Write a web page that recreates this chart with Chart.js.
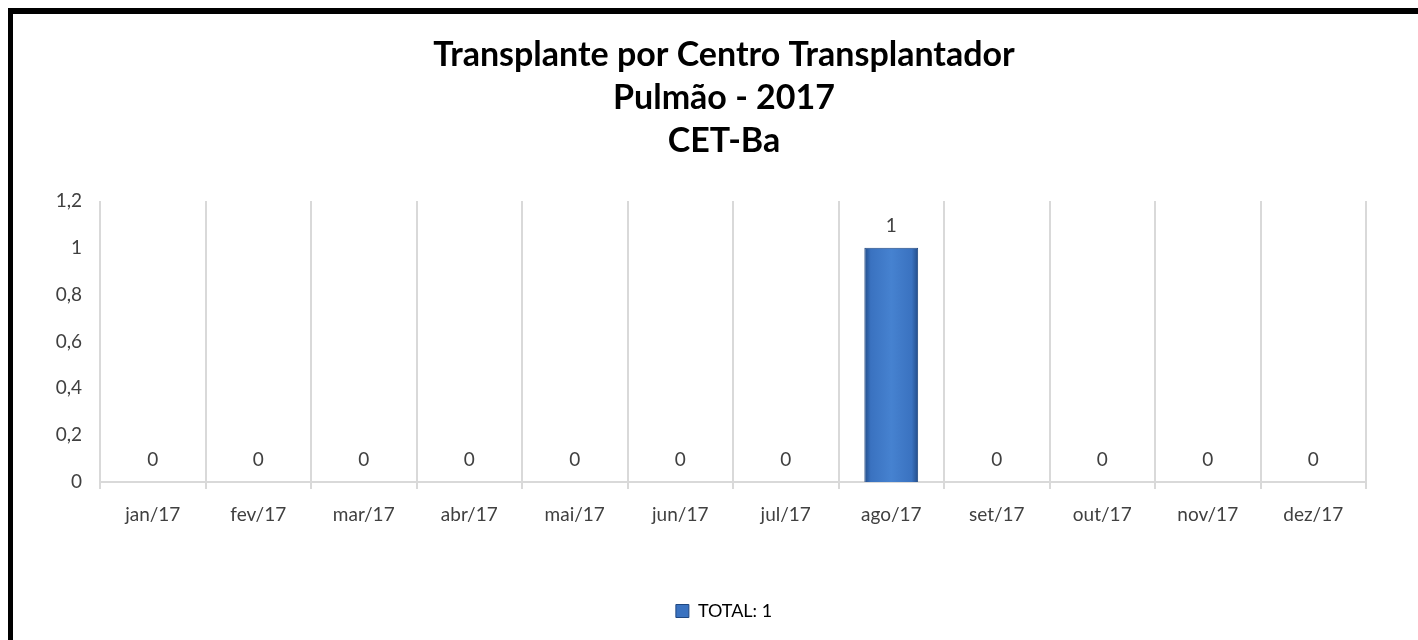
<!DOCTYPE html>
<html>
<head>
<meta charset="utf-8">
<script src="https://cdn.jsdelivr.net/npm/chart.js@4"></script>
<style>
  html, body { margin: 0; padding: 0; background: #fff; overflow: hidden; }
  #wrap { position: relative; width: 1418px; height: 640px; }
  #frame { position: absolute; left: 8px; top: 8px; width: 1500px; height: 700px;
           border-left: 5px solid #000; border-top: 6px solid #000; box-sizing: border-box; }
  canvas { position: absolute; left: 0; top: 0; }
</style>
</head>
<body>
<div id="wrap">
  <canvas id="chart" width="1418" height="640"></canvas>
  <div id="frame"></div>
</div>
<script>
// dados do grafico
const meses = ['jan/17', 'fev/17', 'mar/17', 'abr/17', 'mai/17', 'jun/17',
               'jul/17', 'ago/17', 'set/17', 'out/17', 'nov/17', 'dez/17'];
const transplantes = [0, 0, 0, 0, 0, 0, 0, 1, 0, 0, 0, 0];
const tituloLinhas = ['Transplante por Centro Transplantador', 'Pulmão - 2017', 'CET-Ba'];
const eixoY = { max: 1.2, passo: 0.2 };

const fonte = 'Lato, "Open Sans", sans-serif';
const total = transplantes.reduce((a, b) => a + b, 0);

function virgula(v) {
    return String(Math.round(v * 10) / 10).replace('.', ',');
}

function corBarra(context) {
    const chart = context.chart;
    if (context.type !== 'data' || !chart.chartArea || !chart.scales.x) return '#3a74c2';
    const x = chart.scales.x.getPixelForValue(context.dataIndex);
    const w = 54;
    const g = chart.ctx.createLinearGradient(x - w / 2, 0, x + w / 2, 0);
    g.addColorStop(0, '#224c88');
    g.addColorStop(0.12, '#3a72c0');
    g.addColorStop(0.5, '#4682d0');
    g.addColorStop(0.88, '#3a72c0');
    g.addColorStop(1, '#224c88');
    return g;
}

// rotulos de valor acima das barras
const rotulos = {
    id: 'rotulos',
    afterDatasetsDraw(chart) {
        const ctx = chart.ctx;
        const meta = chart.getDatasetMeta(0);
        ctx.save();
        ctx.font = '19px ' + fonte;
        ctx.fillStyle = '#404040';
        ctx.textAlign = 'center';
        ctx.textBaseline = 'middle';
        meta.data.forEach((bar, i) => {
            ctx.fillText(virgula(transplantes[i]), bar.x, bar.y - 22);
        });
        ctx.restore();
    }
};

// titulo e legenda centrados um pouco mais a direita, como no original
const centro = {
    id: 'centro',
    afterLayout(chart) {
        [chart.titleBlock, chart.legend].forEach(b => {
            const d = 724 - (b.left + b.right) / 2;
            b.left += d;
            b.right += d;
        });
    }
};

const ctx = document.getElementById('chart').getContext('2d');
new Chart(ctx, {
    type: 'bar',
    data: {
        labels: meses,
        datasets: [{
            label: 'TOTAL: ' + total,
            data: transplantes,
            backgroundColor: corBarra,
            borderColor: '#1f4780',
            borderWidth: 1,
            barPercentage: 0.51,
            categoryPercentage: 1
        }]
    },
    options: {
        responsive: false,
        animation: false,
        layout: { padding: { left: 30, right: 52, top: 0, bottom: 10 } },
        plugins: {
            title: {
                display: true,
                text: tituloLinhas,
                color: '#000',
                font: { family: fonte, size: 34, weight: 'bold', lineHeight: 1.265 },
                padding: { top: 34, bottom: 38 }
            },
            legend: {
                position: 'bottom',
                labels: {
                    color: '#404040',
                    font: { family: fonte, size: 18 },
                    boxWidth: 13,
                    boxHeight: 13,
                    padding: 10,
                    generateLabels: () => [{
                        text: 'TOTAL: ' + total,
                        fillStyle: '#3a72c0',
                        strokeStyle: '#1f4780',
                        lineWidth: 1
                    }]
                }
            },
            tooltip: { enabled: false }
        },
        scales: {
            x: {
                offset: true,
                grid: { color: '#d9d9d9', lineWidth: 2, tickLength: 7, offset: true },
                border: { display: true, color: '#d9d9d9', width: 2 },
                ticks: { color: '#404040', font: { family: fonte, size: 19 }, padding: 14, maxRotation: 0 },
                afterFit: s => { s.height = 110; }
            },
            y: {
                min: 0,
                max: eixoY.max,
                grid: { display: false, drawTicks: false },
                border: { display: false },
                ticks: {
                    stepSize: eixoY.passo,
                    color: '#404040',
                    font: { family: fonte, size: 19 },
                    padding: 18,
                    callback: v => virgula(v)
                },
                afterFit: s => { s.width = 70; }
            }
        }
    },
    plugins: [rotulos, centro]
});
</script>
</body>
</html>
